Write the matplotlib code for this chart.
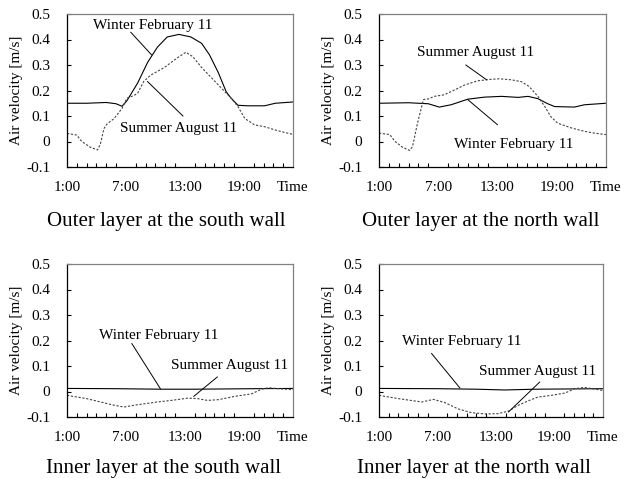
import matplotlib.pyplot as plt
from matplotlib.ticker import MultipleLocator

plt.rcParams['font.family'] = ['Liberation Serif', 'DejaVu Serif']

# Outer layer, south wall
os_win_h = [1, 3, 5, 6, 6.6, 7.1, 8.2, 9.2, 10.2, 11.2, 12.4, 13.6, 14.7, 15.5, 16.4, 17.2, 17.7, 18.4, 19.4, 21.1, 22.2, 24]
os_win_v = [0.15, 0.15, 0.153, 0.148, 0.138, 0.16, 0.23, 0.31, 0.37, 0.41, 0.42, 0.41, 0.385, 0.34, 0.27, 0.195, 0.17, 0.142, 0.14, 0.14, 0.15, 0.155]
os_sum_h = [1, 2, 2.5, 3.4, 4.1, 4.4, 4.75, 5.1, 5.8, 6.6, 7.1, 7.8, 8.2, 8.8, 9.5, 10.9, 12.3, 13.1, 13.8, 14.7, 15.7, 16.7, 17.7, 18.4, 19.1, 20.1, 21.1, 22.2, 23.2, 24]
os_sum_v = [0.032, 0.025, 0.0, -0.023, -0.033, -0.01, 0.05, 0.07, 0.09, 0.13, 0.17, 0.18, 0.19, 0.235, 0.26, 0.29, 0.33, 0.35, 0.333, 0.29, 0.25, 0.21, 0.17, 0.137, 0.09, 0.065, 0.058, 0.045, 0.035, 0.028]

# Outer layer, north wall
on_win_h = [1, 4, 6, 7.1, 8.3, 10, 11.7, 13.4, 15.1, 16.1, 17.1, 18.1, 18.8, 20.8, 21.8, 24]
on_win_v = [0.15, 0.152, 0.148, 0.135, 0.144, 0.166, 0.174, 0.177, 0.173, 0.177, 0.168, 0.148, 0.137, 0.135, 0.144, 0.15]
on_sum_h = [1, 2.1, 2.6, 3.4, 4.1, 4.4, 4.9, 5.5, 6, 6.6, 7.6, 8.7, 9.7, 11, 12.4, 13.2, 14.4, 15.4, 16.2, 17.1, 17.8, 18.4, 19.1, 20.5, 21.8, 22.8, 24]
on_sum_v = [0.033, 0.027, 0.001, -0.023, -0.035, -0.02, 0.072, 0.164, 0.167, 0.177, 0.183, 0.203, 0.222, 0.238, 0.244, 0.246, 0.242, 0.235, 0.216, 0.177, 0.137, 0.098, 0.072, 0.053, 0.04, 0.033, 0.027]

# Inner layer, south wall
is_win_h = [1, 6, 10.6, 14, 20, 24]
is_win_v = [0.012, 0.011, 0.009, 0.009, 0.011, 0.012]
is_sum_h = [1, 3, 4.4, 5.8, 6.8, 7.8, 8.9, 10.2, 11.6, 13.3, 14.3, 15.3, 16.4, 18.1, 19.8, 20.8, 21.5, 22.5, 24]
is_sum_v = [-0.015, -0.028, -0.041, -0.054, -0.061, -0.054, -0.048, -0.041, -0.035, -0.026, -0.028, -0.035, -0.032, -0.019, -0.009, 0.009, 0.015, 0.011, 0.007]

# Inner layer, north wall
in_win_h = [1, 7, 11, 13.9, 17, 24]
in_win_v = [0.012, 0.011, 0.009, 0.006, 0.009, 0.011]
in_sum_h = [1, 3, 5.4, 6.6, 7.8, 9.1, 10.5, 11.9, 13.2, 14.3, 15.3, 16.3, 17.3, 18.7, 20.1, 21.1, 22.1, 24]
in_sum_v = [-0.015, -0.028, -0.041, -0.031, -0.044, -0.068, -0.083, -0.088, -0.087, -0.077, -0.054, -0.037, -0.022, -0.015, -0.006, 0.011, 0.016, 0.004]

titles = ['Outer layer at the south wall', 'Outer layer at the north wall',
          'Inner layer at the south wall', 'Inner layer at the north wall']
tick_pos = [1, 7, 13, 19, 24]
tick_lbl = ['1:00', '7:00', '13:00', '19:00', 'Time']

# (text x, text y, line start, line end) for winter and summer labels
notes = [
    [(9.7, 0.453, (7.5, 0.428), (9.6, 0.34)), (12.4, 0.052, (12.8, 0.1), (9.2, 0.235))],
    [(14.6, -0.012, (13.0, 0.066), (10.0, 0.164)), (10.75, 0.349, (9.8, 0.3), (11.9, 0.242))],
    [(10.3, 0.218, (7.6, 0.188), (10.5, 0.011)), (17.5, 0.103, (16.3, 0.057), (13.9, -0.019))],
    [(9.5, 0.197, (6.4, 0.149), (9.3, 0.014)), (17.3, 0.079, (17.5, 0.037), (14.3, -0.08))],
]

series = [(os_win_h, os_win_v, os_sum_h, os_sum_v),
          (on_win_h, on_win_v, on_sum_h, on_sum_v),
          (is_win_h, is_win_v, is_sum_h, is_sum_v),
          (in_win_h, in_win_v, in_sum_h, in_sum_v)]

# axes boxes in pixels: left, right, top, bottom
boxes = [(67, 293, 14, 167), (379, 606, 14, 167),
         (67, 293, 264, 417), (379, 603, 264, 417)]
title_xy = [(166, 226), (481, 226), (164, 473), (474, 473)]

W, H = 638, 479
fig = plt.figure(figsize=(W / 100, H / 100), dpi=100)

for i in range(4):
    l, r, t, b = boxes[i]
    ax = fig.add_axes([l / W, 1 - b / H, (r - l) / W, (b - t) / H])
    wh, wv, sh, sv = series[i]
    ax.plot(wh, wv, color='black', lw=0.8)
    ax.plot(sh, sv, color='#444444', lw=0.8, linestyle=(0, (2, 1.5)))
    ax.set_xlim(1, 24)
    ax.set_ylim(-0.1, 0.5)
    ax.set_xticks(tick_pos)
    ax.set_xticklabels(tick_lbl)
    ax.xaxis.set_minor_locator(MultipleLocator(1))
    ax.set_yticks([-0.1, 0, 0.1, 0.2, 0.3, 0.4, 0.5])
    ax.set_yticklabels(['-0.1', '0', '0.1', '0.2', '0.3', '0.4', '0.5'])
    ax.tick_params(axis='x', which='major', length=0, pad=10, labelsize=11)
    ax.tick_params(axis='x', which='minor', direction='in', length=3, width=0.8)
    ax.tick_params(axis='y', direction='in', length=3, width=0.8, pad=12, labelsize=11)
    for s in ['top', 'right']:
        ax.spines[s].set_color('#808080')
    for s in ax.spines.values():
        s.set_linewidth(0.9)
    ax.set_ylabel('Air velocity [m/s]', fontsize=11, labelpad=2)

    (wx, wy, wa, wb), (sx, sy, sa, sb) = notes[i]
    ax.text(wx, wy, 'Winter February 11', ha='center', va='center', fontsize=11)
    ax.text(sx, sy, 'Summer August 11', ha='center', va='center', fontsize=11)
    ax.plot([wa[0], wb[0]], [wa[1], wb[1]], color='black', lw=0.7)
    ax.plot([sa[0], sb[0]], [sa[1], sb[1]], color='black', lw=0.7)

    tx, ty = title_xy[i]
    fig.text(tx / W, 1 - ty / H, titles[i], ha='center', va='baseline', fontsize=15)

fig.savefig('out.png', dpi=100)
